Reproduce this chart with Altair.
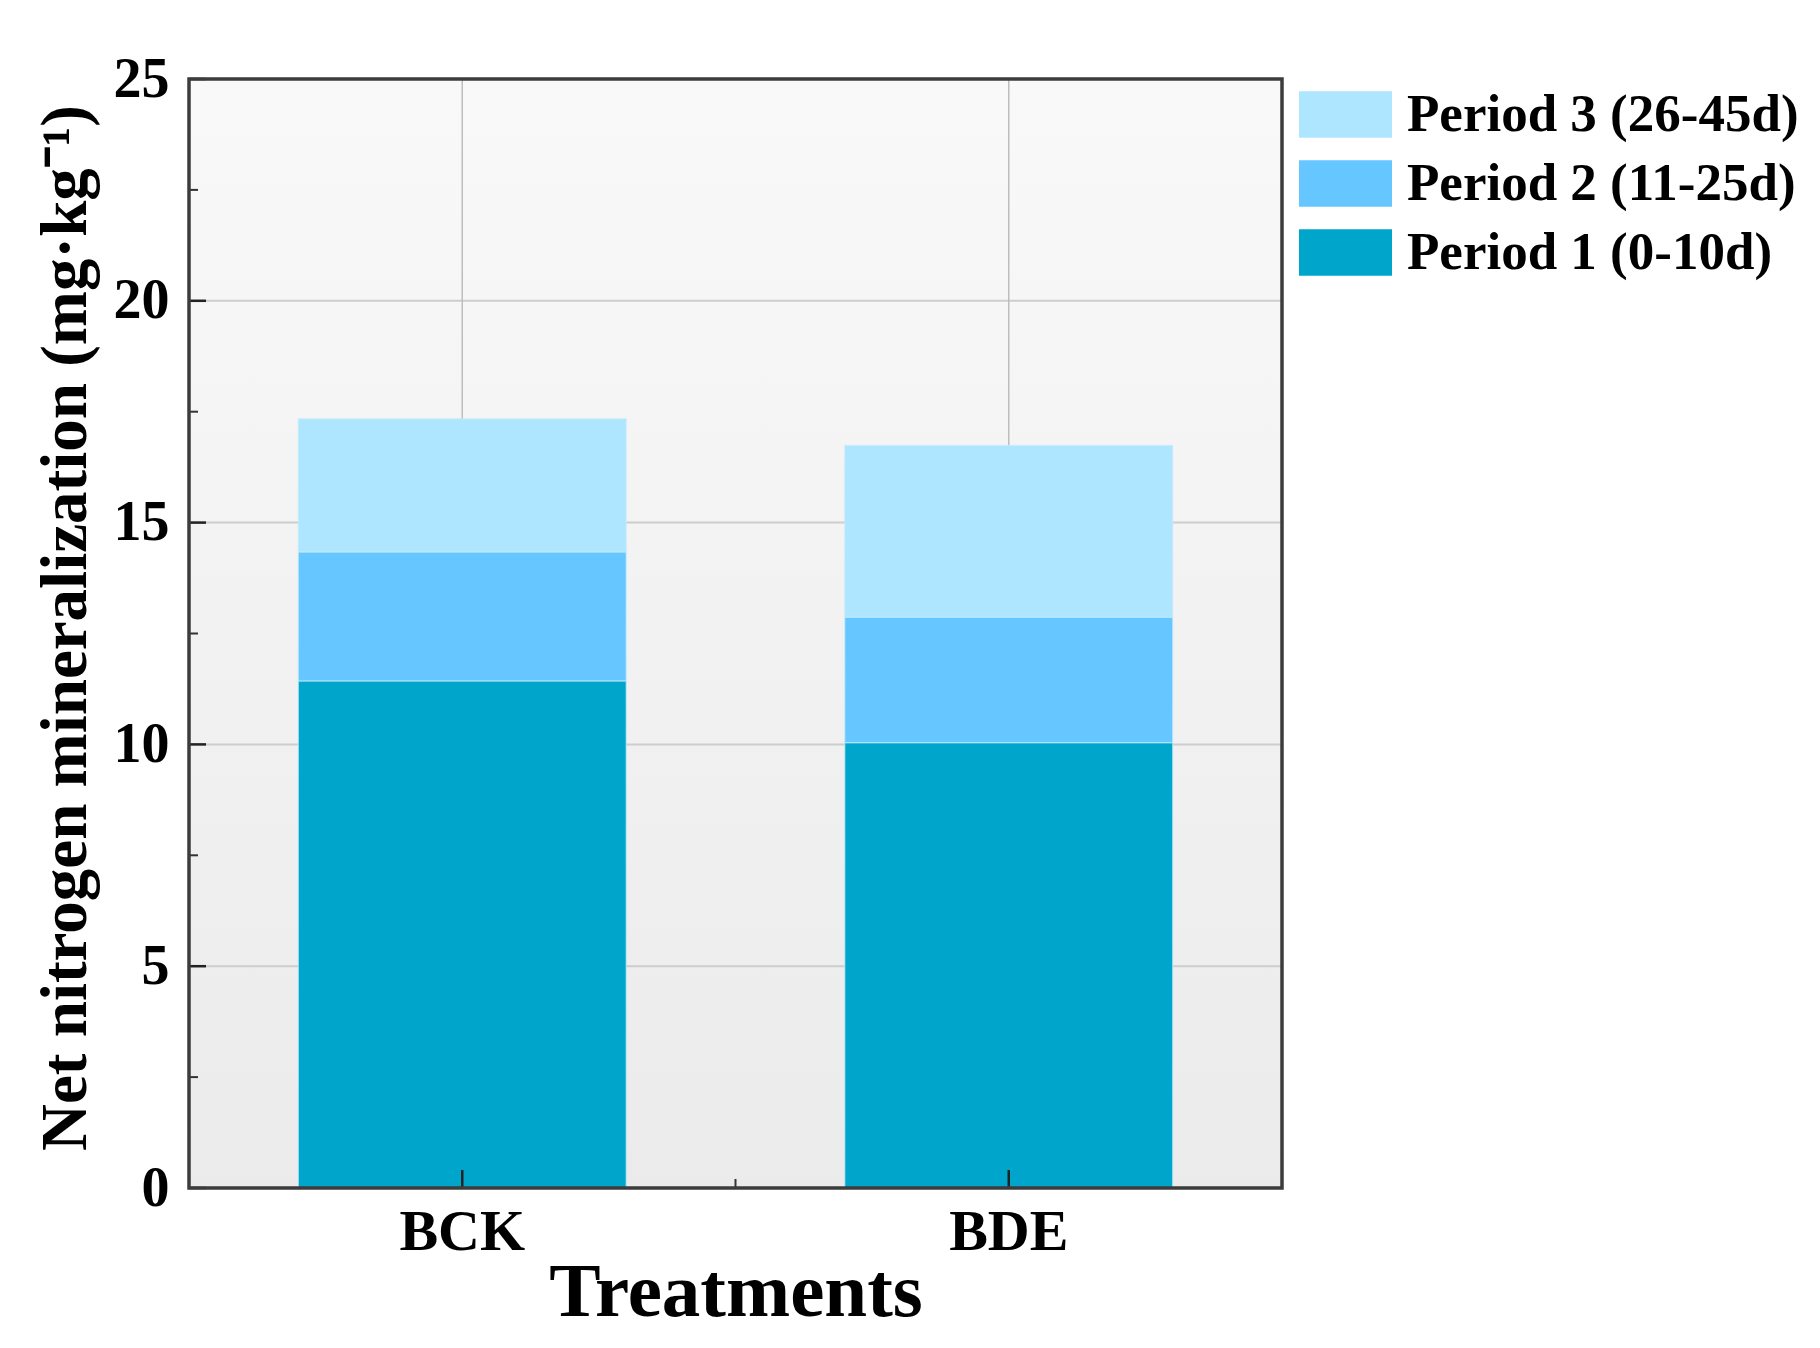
import altair as alt
import pandas as pd

# ---- data ----
treatments = ["BCK", "BDE"]
periods = ["Period 1 (0-10d)", "Period 2 (11-25d)", "Period 3 (26-45d)"]
period1 = [11.43, 10.04]
period2 = [2.91, 2.83]
period3 = [3.00, 3.87]
colors = ["#00A5CC", "#66C6FF", "#AEE6FF"]
y_tick_values = [0, 5, 10, 15, 20, 25]
y_grid_values = [5, 10, 15, 20]
y_minor_values = [2.5, 7.5, 12.5, 17.5, 22.5]

rows = []
for i, t in enumerate(treatments):
    for k, vals in enumerate([period1, period2, period3]):
        rows.append({"Treatment": t, "Period": periods[k], "value": vals[i], "ord": k})
df = pd.DataFrame(rows)

W, H = 1093, 1109
FONT = "Liberation Serif"
YTITLE = "Net nitrogen mineralization (mg·kg⁻¹)"

xscale = alt.Scale(domain=treatments, paddingInner=0.4, paddingOuter=0.2)
yscale = alt.Scale(domain=[0, 25], nice=False, zero=True)

xaxis = alt.Axis(title="Treatments", labelAngle=0, labelAlign="center",
                 labelBaseline="top", ticks=False, tickSize=0,
                 domain=False, grid=False, labelPadding=15,
                 labelFont=FONT, labelFontSize=58, labelFontWeight="bold",
                 labelColor="#000000", titleFont=FONT, titleFontSize=77,
                 titleFontWeight="bold", titleColor="#000000",
                 titleBaseline="alphabetic", titleY=127)
yaxis = alt.Axis(title=YTITLE, values=y_tick_values,
                 ticks=False, tickSize=0, domain=False, grid=False, labelPadding=20,
                 labelFont=FONT, labelFontSize=56, labelFontWeight="bold",
                 labelColor="#000000", titleFont=FONT, titleFontSize=65,
                 titleFontWeight="bold", titleColor="#000000",
                 titleAngle=270, titleBaseline="middle", titleAlign="center",
                 titleX=-124, titleY=H / 2 - 6)

bg = alt.Chart(pd.DataFrame({"a": [0]})).mark_rect(
    fill=alt.Gradient(
        gradient="linear",
        stops=[alt.GradientStop(color="#f9f9f9", offset=0),
               alt.GradientStop(color="#ebebeb", offset=1)],
        x1=0, x2=0, y1=0, y2=1,
    )
).encode(x=alt.value(0), x2=alt.value("width"), y=alt.value(0), y2=alt.value("height"))

hgrid = alt.Chart(pd.DataFrame({"v": y_grid_values})).mark_rule(
    color="#cdcdcd", strokeWidth=2
).encode(y=alt.Y("v:Q", scale=yscale, axis=yaxis, title=YTITLE))

vgrid = alt.Chart(pd.DataFrame({"Treatment": treatments})).mark_rule(
    color="#bdbdbd", strokeWidth=1.5
).encode(x=alt.X("Treatment:N", scale=xscale, axis=xaxis, sort=treatments, title="Treatments"))

bars = alt.Chart(df).mark_bar(
    stroke="#c4ebfb", strokeWidth=1.2, strokeOpacity=0.7
).encode(
    x=alt.X("Treatment:N", scale=xscale, sort=treatments, axis=xaxis, title="Treatments"),
    y=alt.Y("value:Q", stack="zero", scale=yscale, axis=yaxis, title=YTITLE),
    color=alt.Color("Period:N",
                    scale=alt.Scale(domain=periods[::-1], range=colors[::-1]),
                    legend=alt.Legend(title=None, orient="none", legendX=1130, legendY=9,
                                      symbolType="M-2,-1H2V1H-2Z", symbolSize=2162,
                                      symbolStrokeWidth=0, labelFont=FONT, labelFontSize=53,
                                      labelFontWeight="bold", labelColor="#000000",
                                      labelOffset=35, rowPadding=15, labelLimit=600)),
    order=alt.Order("ord:Q", sort="ascending"),
)

ytick_major = alt.Chart(pd.DataFrame({"v": y_tick_values})).mark_rule(
    color="#222222", strokeWidth=2.5
).encode(y=alt.Y("v:Q", scale=yscale, axis=yaxis, title=YTITLE),
         x=alt.value(0), x2=alt.value(17))

ytick_minor = alt.Chart(pd.DataFrame({"v": y_minor_values})).mark_rule(
    color="#333333", strokeWidth=2
).encode(y=alt.Y("v:Q", scale=yscale, axis=yaxis, title=YTITLE),
         x=alt.value(0), x2=alt.value(9))

xtick_major = alt.Chart(pd.DataFrame({"Treatment": treatments})).mark_rule(
    color="#222222", strokeWidth=2.5
).encode(x=alt.X("Treatment:N", scale=xscale, axis=xaxis, sort=treatments, title="Treatments"),
         y=alt.value(H), y2=alt.value(H - 18))

xtick_minor = alt.Chart(pd.DataFrame({"a": [0]})).mark_rule(
    color="#333333", strokeWidth=2
).encode(x=alt.value(W / 2), y=alt.value(H), y2=alt.value(H - 9))

frame = alt.Chart(pd.DataFrame({"a": [0]})).mark_rect(
    fillOpacity=0, stroke="#3c3c3c", strokeWidth=3.5
).encode(x=alt.value(0), x2=alt.value("width"), y=alt.value(0), y2=alt.value("height"))

chart = alt.layer(bg, hgrid, vgrid, bars, ytick_major, ytick_minor, xtick_major, xtick_minor, frame).properties(
    width=W, height=H,
    autosize=alt.AutoSizeParams(type="none"),
    padding={"left": 181, "top": 71, "right": 530, "bottom": 152},
).configure_view(
    stroke=None
).configure(background="#ffffff")

chart.save("out.html", embed_options={"renderer": "svg", "actions": False})
